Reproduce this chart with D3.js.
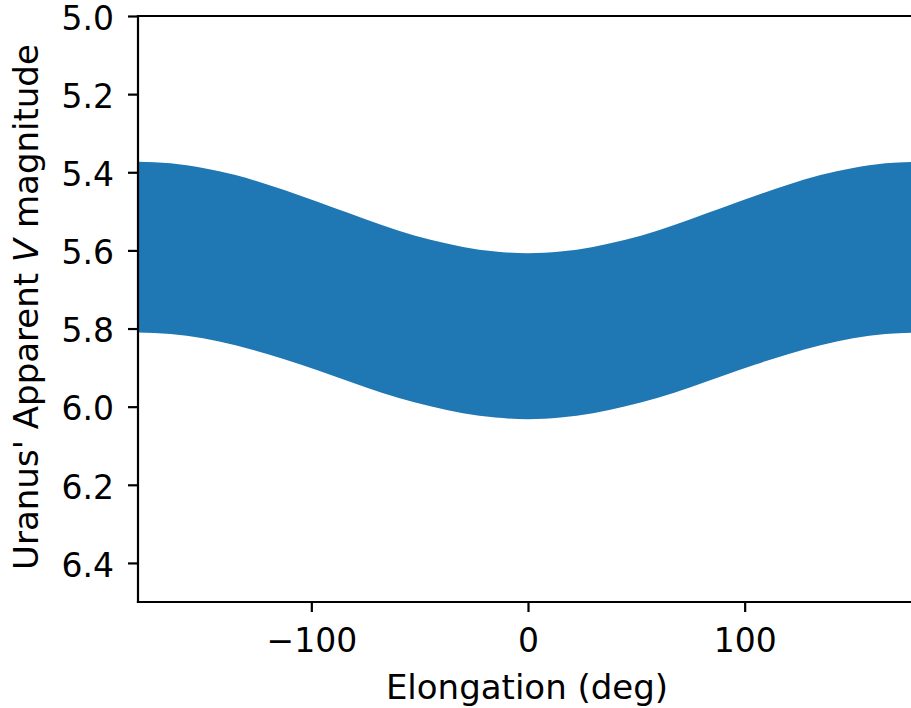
<!DOCTYPE html>
<html>
<head>
<meta charset="utf-8">
<script src="https://cdn.jsdelivr.net/npm/d3@7"></script>
<style>
  html, body { margin: 0; padding: 0; background: #fff; }
  svg text { font-family: "DejaVu Sans", sans-serif; fill: #000; }
</style>
</head>
<body>
<svg id="chart" width="911" height="708"></svg>
<script>
// Elongation (deg) sample points
const elongation = [-180,-165,-150,-135,-120,-105,-90,-75,-60,-45,-30,-15,0,15,30,45,60,75,90,105,120,135,150,165,180];
// Brightest (smallest) apparent magnitude at each elongation (upper edge of band)
const magMin = [5.373,5.377,5.389,5.407,5.432,5.460,5.490,5.520,5.549,5.573,5.591,5.603,5.607,5.603,5.591,5.573,5.549,5.520,5.490,5.460,5.432,5.407,5.389,5.377,5.373];
// Faintest (largest) apparent magnitude at each elongation (lower edge of band)
const magMax = [5.810,5.814,5.825,5.843,5.866,5.892,5.921,5.950,5.977,5.999,6.017,6.028,6.032,6.028,6.017,5.999,5.977,5.950,5.921,5.892,5.866,5.843,5.825,5.814,5.810];
const xTicks = [-100, 0, 100];
const yTicks = [5.0, 5.2, 5.4, 5.6, 5.8, 6.0, 6.2, 6.4];

(function () {
const svg = d3.select("#chart");
const mL = 138, mT = 16, mB = 602, mR = 918;
const x = d3.scaleLinear().domain([-180, 180]).range([mL, mR]);
const y = d3.scaleLinear().domain([5.0, 6.5]).range([mT, mB]);

svg.append("defs").append("clipPath").attr("id", "clip")
  .append("rect").attr("x", mL).attr("y", mT).attr("width", mR - mL).attr("height", mB - mT);

const data = elongation.map((e, i) => ({e, lo: magMin[i], hi: magMax[i]}));
const area = d3.area()
  .x(d => x(d.e))
  .y0(d => y(d.lo))
  .y1(d => y(d.hi))
  .curve(d3.curveNatural);

svg.append("path").datum(data)
  .attr("clip-path", "url(#clip)")
  .attr("d", area)
  .attr("fill", "#1f77b4");

const fs = 33;
const xAxis = svg.append("g").attr("transform", `translate(0,${mB})`)
  .call(d3.axisBottom(x).tickValues(xTicks).tickSize(10).tickPadding(17).tickFormat(d3.format("d")));
const yAxis = svg.append("g").attr("transform", `translate(${mL},0)`)
  .call(d3.axisLeft(y).tickValues(yTicks).tickSize(10).tickPadding(14).tickFormat(d3.format(".1f")));
[xAxis, yAxis].forEach(g => {
  g.selectAll("path.domain").remove();
  g.selectAll("line").attr("stroke", "#000").attr("stroke-width", 2.2);
  g.selectAll("text").attr("font-size", fs).attr("font-family", "DejaVu Sans").attr("fill", "#000");
});
yAxis.selectAll("text").attr("dy", "0.4em");
const spine = (x1, y1, x2, y2) => svg.append("line").attr("x1", x1).attr("y1", y1).attr("x2", x2).attr("y2", y2)
  .attr("stroke", "#000").attr("stroke-width", 2.2).attr("stroke-linecap", "square");
spine(mL, mT, mR, mT);
spine(mL, mB, mR, mB);
spine(mL, mT, mL, mB);
spine(mR, mT, mR, mB);

svg.append("text").attr("x", (mL + mR) / 2 - 1).attr("y", 699)
  .attr("text-anchor", "middle").attr("font-size", 34).text("Elongation (deg)");
const yl = svg.append("text")
  .attr("transform", `translate(38,${(mT + mB) / 2 - 2}) rotate(-90)`)
  .attr("text-anchor", "middle").attr("font-size", 34);
yl.append("tspan").text("Uranus' Apparent ");
yl.append("tspan").attr("font-style", "italic").text("V");
yl.append("tspan").text(" magnitude");
})();
</script>
</body>
</html>
